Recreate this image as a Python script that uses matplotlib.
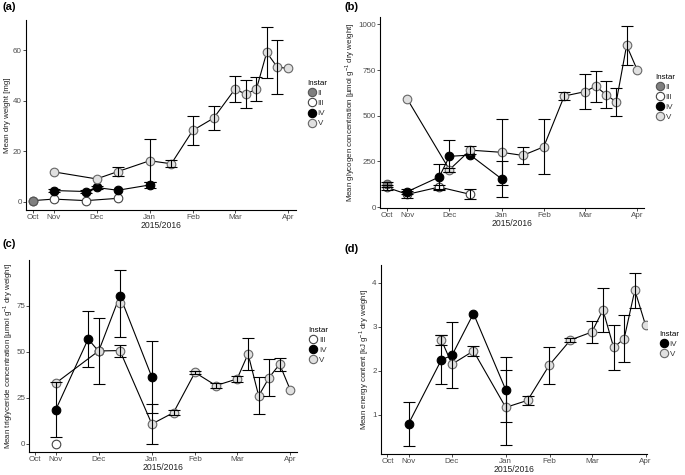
import numpy as np
import matplotlib
matplotlib.use("Agg")
import matplotlib.pyplot as plt

plt.rcParams["font.family"] = ["Liberation Sans", "DejaVu Sans"]
plt.rcParams["mathtext.fontset"] = "custom"
plt.rcParams["mathtext.rm"] = "Liberation Sans"

nan = np.nan

# ---- sampling dates (position along the season axis) ----
samples = ["Oct", "Nov", "lateNov", "Dec", "midDec", "Jan", "midJan", "Feb",
           "midFeb", "Mar", "Mar7", "Mar14", "Mar20", "Mar26", "Apr"]
sample_day = np.array([0, 21, 53.5, 64, 85.3, 117.3, 139, 160.5,
                       181.5, 202.7, 213.7, 224.3, 234.7, 245.3, 256])
month_labels = ["Oct", "Nov", "Dec", "Jan", "Feb", "Mar", "Apr"]
month_day = [0, 21, 64, 117.3, 161, 202.7, 256]

# ---- (a) dry weight [mg] ----
a_II = [0.3] + [nan] * 14
a_III = [0.4, 1.0, 0.4, nan, 1.3] + [nan] * 10
a_IV = [nan, 4.4, 4.0, 5.6, 4.5, 6.6] + [nan] * 9
a_IV_se = [nan, 0.5, 0.7, 0.5, nan, 1.2] + [nan] * 9
a_V = [nan, 11.8, nan, 9.0, 11.9, 16.2, 15.0, 28.2, 33.1, 44.5, 42.7, 44.5, 59.1, 53.3, 52.8]
a_V_se = [nan, nan, nan, nan, 1.7, 8.6, 1.4, 5.6, 4.7, 5.1, 5.4, 4.7, 10.0, 10.8, nan]

# ---- (b) glycogen [umol/g] ----
b_II = [125] + [nan] * 14
b_II_se = [15] + [nan] * 14
b_III = [108, 70, 110, nan, 70] + [nan] * 10
b_III_se = [12, 20, 10, nan, 28] + [nan] * 10
b_IV = [nan, 85, 165, 278, 285, 155] + [nan] * 9
b_IV_se = [nan, 15, 70, 87, nan, 100] + [nan] * 9
b_V = [nan, 590, nan, 205, 312, 300, 283, 330, 608, 632, 662, 615, 576, 885, 753]
b_V_se = [nan, nan, nan, 10, 22, 180, 48, 150, 22, 97, 85, 75, 78, 105, nan]

# ---- (c) triglyceride [umol/g] ----
c_III = [nan, 0.0] + [nan] * 13
c_IV = [nan, 18.5, 57, 50.3, 80.5, 36.3] + [nan] * 9
c_IV_se = [nan, 15, 15, nan, nan, 19.5] + [nan] * 9
c_V = [nan, 33, nan, 50.5, 50.7, 10.8, 17, 38.8, 31.7, 35.3, 48.9, 26.1, 36, 43.3, 29.3]
c_V_se = [nan, nan, nan, 18, 3.3, 10.8, 1.5, 1.0, 1.5, 1.8, 8.5, 10, 10.2, 3.5, nan]
c_V2 = [nan, nan, nan, nan, 76.3] + [nan] * 10
c_V2_se = [nan, nan, nan, nan, 18.3] + [nan] * 10

# ---- (d) energy content [kJ/g] ----
d_IV = [nan, 0.8, 2.25, 2.35, 3.3, 1.57] + [nan] * 9
d_IV_se = [nan, 0.5, 0.56, 0.75, nan, 0.74] + [nan] * 9
d_V = [nan, nan, 2.7, 2.15, 2.45, 1.17, 1.33, 2.13, 2.7, 2.88, 3.38, 2.53, 2.73, 3.83, 3.03]
d_V_se = [nan, nan, 0.11, nan, 0.12, 0.85, 0.1, 0.42, 0.05, 0.25, 0.49, 0.51, 0.53, 0.4, nan]

styles = {
    "II": dict(mfc="#7f7f7f", mec="#555555"),
    "III": dict(mfc="white", mec="#444444"),
    "IV": dict(mfc="black", mec="black"),
    "V": dict(mfc="#e0e0e0", mec="#666666"),
}


def draw_series(ax, vals, se, instar):
    vals = np.array(vals, dtype=float)
    ok = ~np.isnan(vals)
    ax.plot(sample_day[ok], vals[ok], color="black", lw=0.8, zorder=2)
    ax.plot(sample_day[ok], vals[ok], ls="none", marker="o", ms=6.2, mew=0.8,
            zorder=3, **styles[instar])
    if se is not None:
        se = np.array(se, dtype=float)
        ok2 = ok & ~np.isnan(se)
        ax.errorbar(sample_day[ok2], vals[ok2], yerr=se[ok2], fmt="none",
                    ecolor="black", elinewidth=0.8, capsize=4.5, capthick=0.8, zorder=4)


def style_axes(ax, ylabel, yticks, ylim, xlim):
    ax.set_xlim(*xlim)
    ax.set_ylim(*ylim)
    ax.set_yticks(yticks)
    ax.set_xticks(month_day)
    ax.set_xticklabels(month_labels)
    ax.spines["top"].set_visible(False)
    ax.spines["right"].set_visible(False)
    for s in ["left", "bottom"]:
        ax.spines[s].set_linewidth(0.8)
    ax.tick_params(labelsize=5.8, colors="#4d4d4d", length=2, width=0.7, pad=1)
    ax.set_ylabel(ylabel, fontsize=5.7, color="#222222", labelpad=1.2)
    ax.set_xlabel("2015/2016", fontsize=6.2, color="#222222", labelpad=0)


def add_legend(ax, instars, loc):
    handles = [plt.Line2D([], [], ls="none", marker="o", ms=6, mew=0.8, **styles[i])
               for i in instars]
    leg = ax.legend(handles, instars, title="Instar", loc="upper left",
                    bbox_to_anchor=loc, frameon=False, fontsize=5.8,
                    title_fontsize=5.8, handletextpad=0.1, labelspacing=0.3,
                    handlelength=1.2, borderaxespad=0)
    leg._legend_box.align = "left"
    for t in leg.get_texts():
        t.set_color("#333333")


fig = plt.figure(figsize=(6.85, 4.75), dpi=100)
ax_a = fig.add_axes([0.038, 0.558, 0.394, 0.400])
ax_b = fig.add_axes([0.555, 0.562, 0.385, 0.402])
ax_c = fig.add_axes([0.043, 0.048, 0.391, 0.405])
ax_d = fig.add_axes([0.556, 0.044, 0.388, 0.398])

# (a)
draw_series(ax_a, a_III, None, "III")
draw_series(ax_a, a_II, None, "II")
draw_series(ax_a, a_IV, a_IV_se, "IV")
draw_series(ax_a, a_V, a_V_se, "V")
style_axes(ax_a, "Mean dry weight [mg]", [0, 20, 40, 60], (-3.3, 72), (-6.7, 264))
add_legend(ax_a, ["II", "III", "IV", "V"], (1.03, 0.70))

# (b)
draw_series(ax_b, b_III, b_III_se, "III")
draw_series(ax_b, b_II, b_II_se, "II")
draw_series(ax_b, b_IV, b_IV_se, "IV")
draw_series(ax_b, b_V, b_V_se, "V")
style_axes(ax_b, r"Mean glycogen concentration [µmol g$^{-1}$ dry weight]",
           [0, 250, 500, 750, 1000], (-5, 1040), (-6.9, 263))
add_legend(ax_b, ["II", "III", "IV", "V"], (1.03, 0.72))

# (c)
draw_series(ax_c, c_III, None, "III")
draw_series(ax_c, c_V2, c_V2_se, "V")
draw_series(ax_c, c_IV, c_IV_se, "IV")
draw_series(ax_c, c_V, c_V_se, "V")
style_axes(ax_c, r"Mean triglyceride concentration [µmol g$^{-1}$ dry weight]",
           [0, 25, 50, 75], (-4.5, 100), (-5.3, 263))
add_legend(ax_c, ["III", "IV", "V"], (1.03, 0.67))

# (d)
draw_series(ax_d, d_IV, d_IV_se, "IV")
draw_series(ax_d, d_V, d_V_se, "V")
style_axes(ax_d, r"Mean energy content [kJ g$^{-1}$ dry weight]",
           [1, 2, 3, 4], (0.11, 4.4), (-6.5, 257))
add_legend(ax_d, ["IV", "V"], (1.035, 0.67))

for lab, (x, y) in zip(["(a)", "(b)", "(c)", "(d)"],
                       [(0.003, 0.995), (0.503, 0.995), (0.003, 0.497), (0.503, 0.487)]):
    fig.text(x, y, lab, fontsize=8, fontweight="bold", va="top", ha="left")

fig.savefig("out.png", dpi=100)
